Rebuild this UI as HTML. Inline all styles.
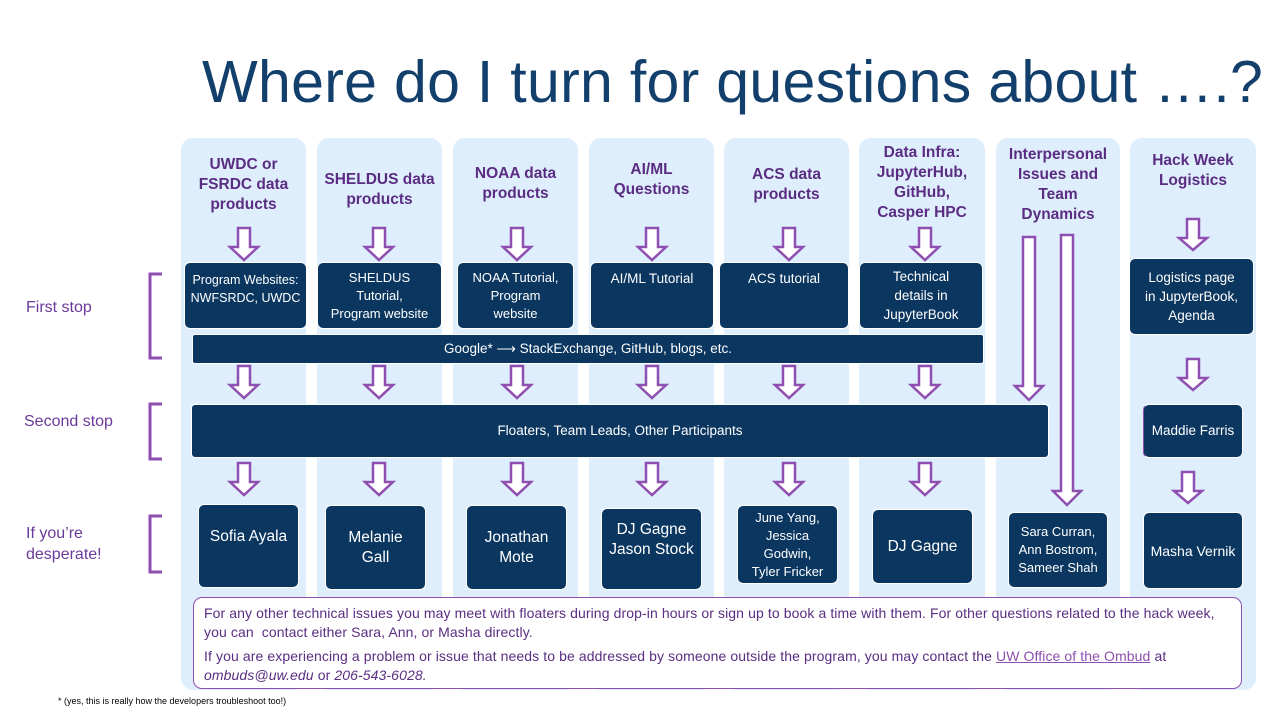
<!DOCTYPE html>
<html><head><meta charset="utf-8"><style>
body{margin:0;width:1280px;height:720px;background:#fff;position:relative;overflow:hidden;font-family:"Liberation Sans",sans-serif}
.a{position:absolute}
.col{position:absolute;top:138px;height:552px;background:#deeefc;border-radius:12px}
.h{position:absolute;color:#5a2d82;font-weight:bold;font-size:15.5px;text-align:center;line-height:20px}
.b{position:absolute;background:#0a3660;color:#fff;border-radius:6px;display:flex;align-items:center;justify-content:center;text-align:center;font-size:13.5px;line-height:18px;border:1px solid #fff;box-sizing:border-box}
.p{font-size:15.5px;line-height:20px}
.lab{position:absolute;color:#6a3a9a;font-size:16px;line-height:21px}
</style></head><body>
<div class="a" style="left:202px;top:48px;font-size:59px;color:#123f6b;white-space:nowrap;letter-spacing:0.3px">Where do I turn for questions about ….?</div>
<div class="col" style="left:181px;width:125px"></div>
<div class="col" style="left:317px;width:125px"></div>
<div class="col" style="left:453px;width:125px"></div>
<div class="col" style="left:589px;width:125px"></div>
<div class="col" style="left:724px;width:125px"></div>
<div class="col" style="left:859px;width:126px"></div>
<div class="col" style="left:996px;width:124px"></div>
<div class="col" style="left:1130px;width:126px"></div>

<div class="h" style="left:181px;width:125px;top:155px">UWDC or<br>FSRDC data<br>products</div>
<div class="h" style="left:317px;width:125px;top:170px">SHELDUS data<br>products</div>
<div class="h" style="left:453px;width:125px;top:164px">NOAA data<br>products</div>
<div class="h" style="left:589px;width:125px;top:160px">AI/ML<br>Questions</div>
<div class="h" style="left:724px;width:125px;top:165px">ACS data<br>products</div>
<div class="h" style="left:859px;width:126px;top:143px">Data Infra:<br>JupyterHub,<br>GitHub,<br>Casper HPC</div>
<div class="h" style="left:996px;width:124px;top:145px">Interpersonal<br>Issues and<br>Team<br>Dynamics</div>
<div class="h" style="left:1130px;width:126px;top:151px">Hack Week<br>Logistics</div>

<div class="b" style="left:184px;top:262px;width:123px;height:67px;font-size:12.5px;align-items:flex-start;padding-top:8px">Program Websites:<br>NWFSRDC, UWDC</div>
<div class="b" style="left:317px;top:262px;width:125px;height:67px;font-size:13px">SHELDUS<br>Tutorial,<br>Program website</div>
<div class="b" style="left:457px;top:262px;width:117px;height:67px;font-size:13px">NOAA Tutorial,<br>Program<br>website</div>
<div class="b" style="left:590px;top:262px;width:124px;height:67px;align-items:flex-start;padding-top:7px">AI/ML Tutorial</div>
<div class="b" style="left:719px;top:262px;width:130px;height:67px;align-items:flex-start;padding-top:7px">ACS tutorial</div>
<div class="b" style="left:859px;top:262px;width:124px;height:67px;line-height:19px">Technical<br>details in<br>JupyterBook</div>
<div class="b" style="left:1129px;top:258px;width:125px;height:77px;line-height:19px">Logistics page<br>in JupyterBook,<br>Agenda</div>

<div class="b" style="left:192px;top:334px;width:792px;height:30px;border-radius:3px">Google* ⟶ StackExchange, GitHub, blogs, etc.</div>
<div class="b" style="left:191px;top:404px;width:858px;height:54px;border-radius:4px">Floaters, Team Leads, Other Participants</div>
<div class="b" style="left:1143px;top:404px;width:100px;height:54px;border-left:1px solid #8e4fb0">Maddie Farris</div>

<div class="b p" style="left:198px;top:504px;width:101px;height:84px;align-items:flex-start;padding-top:22px">Sofia Ayala</div>
<div class="b p" style="left:325px;top:505px;width:101px;height:85px">Melanie<br>Gall</div>
<div class="b p" style="left:466px;top:505px;width:101px;height:85px">Jonathan<br>Mote</div>
<div class="b p" style="left:601px;top:508px;width:101px;height:82px;align-items:flex-start;padding-top:11px">DJ Gagne<br>Jason Stock</div>
<div class="b" style="left:737px;top:505px;width:101px;height:79px;font-size:13px">June Yang,<br>Jessica<br>Godwin,<br>Tyler Fricker</div>
<div class="b p" style="left:872px;top:509px;width:101px;height:75px">DJ Gagne</div>
<div class="b" style="left:1008px;top:512px;width:100px;height:76px;font-size:13px">Sara Curran,<br>Ann Bostrom,<br>Sameer Shah</div>
<div class="b" style="left:1143px;top:512px;width:100px;height:77px;font-size:14px">Masha Vernik</div>

<div class="a" style="left:193px;top:597px;width:1049px;height:92px;background:#fff;border:1.5px solid #8e4fb0;border-radius:9px;box-sizing:border-box;padding:6px 10px;color:#5a2d82;font-size:14px;line-height:19px;letter-spacing:0.1px">
<div>For any other technical issues you may meet with floaters during drop-in hours or sign up to book a time with them. For other questions related to the hack week, you can &nbsp;contact either Sara, Ann, or Masha directly.</div>
<div style="margin-top:5px">If you are experiencing a problem or issue that needs to be addressed by someone outside the program, you may contact the <u style="color:#8e4fb0">UW Office of the Ombud</u> at <i>ombuds@uw.edu</i> or <i>206-543-6028.</i></div>
</div>
<div class="a" style="left:58px;top:696px;font-size:9px;color:#000">* (yes, this is really how the developers troubleshoot too!)</div>

<div class="lab" style="left:26px;top:297px">First stop</div>
<div class="lab" style="left:24px;top:411px">Second stop</div>
<div class="lab" style="left:26px;top:523px">If you’re<br>desperate!</div>

<svg class="a" style="left:0;top:0" width="1280" height="720">
<g fill="none" stroke="#8e4fb0" stroke-width="3">
<path d="M162 274 H150 V358 H162"/>
<path d="M162 404 H150 V459 H162"/>
<path d="M162 516 H150 V572 H162"/>
</g>
<g fill="#fff" stroke="#8e4fb0" stroke-width="2.5" stroke-linejoin="miter" id="arr"></g>
</svg>
<script>
const g=document.getElementById('arr');
function A(cx,y0,y1,y2){const p=document.createElementNS('http://www.w3.org/2000/svg','polygon');
p.setAttribute('points',`${cx-6},${y0} ${cx+6},${y0} ${cx+6},${y1} ${cx+14},${y1} ${cx},${y2} ${cx-14},${y1} ${cx-6},${y1}`);g.appendChild(p);}
[244,379,517,652,789,925].forEach(c=>{A(c,228,247,260);A(c,366,385,398);A(c,463,482,495);});
A(1029,237,386,400);A(1067,235,491,505);
A(1193,219,238,250);A(1193,359,378,390);A(1188,472,491,503);
</script>
</body></html>
